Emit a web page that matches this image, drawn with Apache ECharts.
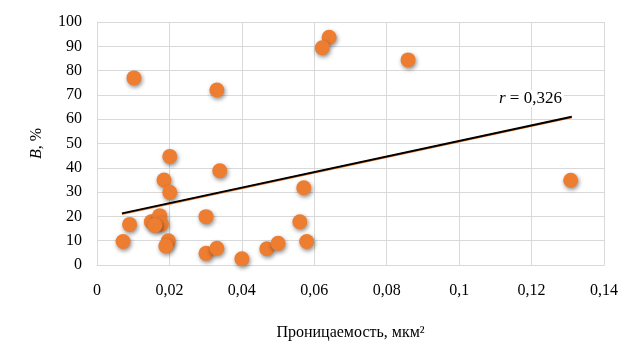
<!DOCTYPE html>
<html><head><meta charset="utf-8">
<script src="https://cdn.jsdelivr.net/npm/echarts@6/dist/echarts.min.js"></script>
<style>html,body{margin:0;padding:0;background:#fff}#c{width:643px;height:351px}</style>
</head><body><div id="c"></div>
<script>
const permeability = [0.0102,0.0331,0.0201,0.0339,0.0185,0.0201,0.0090,0.0301,0.0072,0.0150,0.0173,0.0178,0.0160,0.0197,0.0190,0.0301,0.0331,0.0400,0.0469,0.0500,0.0641,0.0622,0.0859,0.0571,0.0560,0.0579,0.1308];
const bValues     = [77,72,44.7,38.8,35,29.9,16.7,19.9,9.7,17.8,20.3,16.9,16.3,10,7.8,4.8,6.9,2.6,6.7,8.9,93.7,89.4,84.4,31.8,17.8,9.7,34.9];
const trendX = [0.0069, 0.1311];
const trendY = [21.0, 60.8];
const xTicks = [0,0.02,0.04,0.06,0.08,0.1,0.12,0.14];
const yTicks = [0,10,20,30,40,50,60,70,80,90,100];
const rLabel = '0,326';

const serif = '"Liberation Serif","Times New Roman",serif';
const chart = echarts.init(document.getElementById('c'));
chart.setOption({
  animation: false,
  grid: {left: 97, right: 39, top: 22, bottom: 86},
  xAxis: {
    type: 'value', min: xTicks[0], max: xTicks[xTicks.length-1], interval: 0.02,
    name: 'Проницаемость, мкм²', nameLocation: 'middle', nameGap: 60,
    nameTextStyle: {fontFamily: serif, fontSize: 16, color: '#000'},
    axisLine: {show: true, lineStyle: {color: '#d9d9d9', width: 1}},
    axisTick: {show: false},
    splitLine: {show: true, lineStyle: {color: '#d9d9d9', width: 1}},
    axisLabel: {fontFamily: serif, fontSize: 16, color: '#000', margin: 18,
      formatter: v => String(+v.toFixed(2)).replace('.', ',')}
  },
  yAxis: {
    type: 'value', min: yTicks[0], max: yTicks[yTicks.length-1], interval: 10,
    name: '{i|B}, %', nameLocation: 'middle', nameGap: 52, nameRotate: 90,
    nameTextStyle: {fontFamily: serif, fontSize: 16, color: '#000',
      rich: {i: {fontFamily: serif, fontSize: 16, fontStyle: 'italic', color: '#000'}}},
    axisLine: {show: true, lineStyle: {color: '#d9d9d9', width: 1}},
    axisTick: {show: false},
    splitLine: {show: true, lineStyle: {color: '#d9d9d9', width: 1}},
    axisLabel: {fontFamily: serif, fontSize: 16, color: '#000', margin: 15}
  },
  graphic: [{
    type: 'text', left: 497, top: 90, z: 100,
    style: {
      text: '{i|r} = ' + rLabel,
      font: '17px ' + serif, fill: '#000',
      backgroundColor: '#fff', padding: [0, 2, 0, 2],
      rich: {i: {fontFamily: serif, fontSize: 17, fontStyle: 'italic', fill: '#000'}}
    }
  }],
  series: [
    {
      type: 'scatter', symbol: 'circle', symbolSize: 15,
      data: permeability.map((x, i) => [x, bValues[i]]),
      itemStyle: {color: '#ED7D31', opacity: 1, shadowBlur: 4, shadowOffsetX: 1, shadowOffsetY: 2, shadowColor: 'rgba(0,0,0,0.45)'},
      z: 2
    },
    {
      type: 'line', data: trendX.map((x, i) => [x, trendY[i]]),
      symbol: 'none', lineStyle: {color: '#ED7D31', width: 2}, z: 3, silent: true
    },
    {
      type: 'line', data: trendX.map((x, i) => [x, trendY[i] + 0.25]),
      symbol: 'none', lineStyle: {color: '#000', width: 2}, z: 4, silent: true
    }
  ]
});
</script></body></html>
